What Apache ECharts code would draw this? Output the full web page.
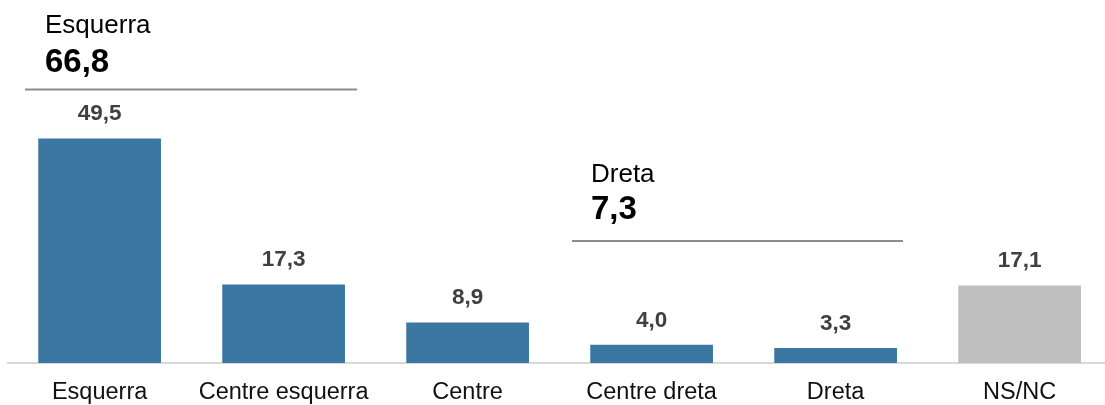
<!DOCTYPE html>
<html>
<head>
<meta charset="utf-8">
<script src="https://cdn.jsdelivr.net/npm/echarts@6/dist/echarts.min.js"></script>
<style>
html,body{margin:0;padding:0;background:#fff;}
#chart{width:1105px;height:405px;}
</style>
</head>
<body>
<div id="chart"></div>
<script>
const categories = ['Esquerra', 'Centre esquerra', 'Centre', 'Centre dreta', 'Dreta', 'NS/NC'];
const values = [49.5, 17.3, 8.9, 4.0, 3.3, 17.1];
const groupNames = ['Esquerra', 'Dreta'];
const groupTotals = [66.8, 7.3];

const fmt = v => v.toFixed(1).replace('.', ',');
const FONT = '"Liberation Sans", Arial, Helvetica, sans-serif';

const chart = echarts.init(document.getElementById('chart'), null, {renderer: 'canvas'});

const groupLayout = [
  {textX: 45, nameY: 25.5, totalY: 62.5, lineY: 89.5, x1: 25, x2: 357},
  {textX: 591, nameY: 175, totalY: 209.5, lineY: 241, x1: 572, x2: 903}
];
const graphics = [];
groupNames.forEach((n, i) => {
  const g = groupLayout[i];
  graphics.push({type: 'text', x: g.textX, y: g.nameY, style: {text: n, fill: '#000', font: '26px ' + FONT, align: 'left', verticalAlign: 'middle'}});
  graphics.push({type: 'text', x: g.textX, y: g.totalY, style: {text: fmt(groupTotals[i]), fill: '#000', font: 'bold 33px ' + FONT, align: 'left', verticalAlign: 'middle'}});
  graphics.push({type: 'line', shape: {x1: g.x1, y1: g.lineY, x2: g.x2, y2: g.lineY}, style: {stroke: '#8c8c8c', lineWidth: 2}});
});

chart.setOption({
  animation: false,
  grid: {left: 7.6, top: 0, width: 1104, height: 363, containLabel: false, outerBoundsMode: 'none'},
  xAxis: {
    type: 'category',
    data: categories,
    axisLine: {show: true, lineStyle: {color: '#d9d9d9', width: 2}},
    axisTick: {show: false},
    axisLabel: {color: '#111', fontSize: 23.5, fontFamily: FONT, margin: 18, interval: 0}
  },
  yAxis: {type: 'value', min: 0, max: 80, show: false, splitLine: {show: false}},
  series: [{
    type: 'bar',
    data: values,
    barCategoryGap: '33.3%',
    itemStyle: {color: p => p.name === 'NS/NC' ? '#bfbfbf' : '#3a77a2'},
    label: {show: true, position: 'top', distance: 13, formatter: p => fmt(p.value), color: '#404040', fontSize: 22.5, fontWeight: 'bold', fontFamily: FONT}
  }],
  graphic: graphics
});
</script>
</body>
</html>
